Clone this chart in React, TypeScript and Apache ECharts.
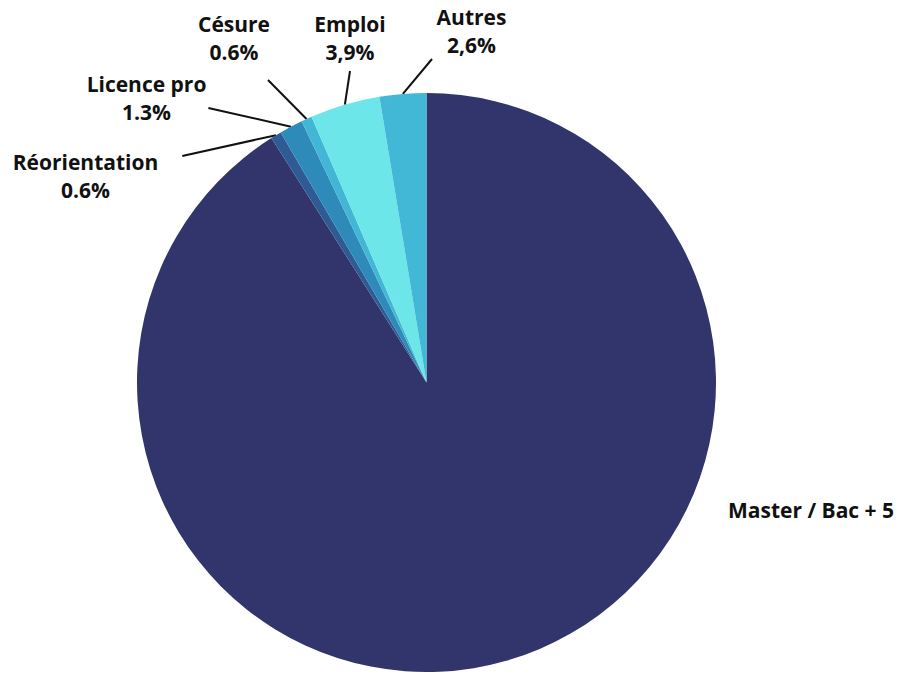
import React, { useEffect, useRef } from "react";
import * as echarts from "echarts";

const categories = ["Master / Bac + 5", "Réorientation", "Licence pro", "Césure", "Emploi", "Autres"];
const values = [91.0, 0.6, 1.3, 0.6, 3.9, 2.6];
const percentLabels = ["", "0.6%", "1.3%", "0.6%", "3,9%", "2,6%"];
const colors = ["#32356c", "#2f5b94", "#2e8ab9", "#42b7d5", "#6ce6e8", "#43b8d6"];
// label box anchor (centre x, top y) and paddings used to steer the connector lines
const labelSpots = [
  [811, 496],
  [97.5, 108],
  [147.5, 70],
  [268, 10],
  [350, 10],
  [432, 3],
];
const labelPads = [
  [0, 0, 0, 0],
  [40, 24, 0, 0],
  [0, 2, 20, 0],
  [0, 68, 14, 0],
  [0, 0, 5, 0],
  [0, 0, 0, 79],
];

export default function App() {
  const ref = useRef<HTMLDivElement>(null);
  useEffect(() => {
    const chart = echarts.init(ref.current!, null, { renderer: "svg" });
    chart.setOption({
      animation: false,
      backgroundColor: "#ffffff",
      series: [
        {
          type: "pie",
          center: [426.5, 382.5],
          radius: 289.5,
          startAngle: 90,
          clockwise: true,
          avoidLabelOverlap: false,
          itemStyle: { borderWidth: 0 },
          label: {
            show: true,
            position: "outside",
            fontFamily: "Open Sans",
            fontWeight: "bold",
            fontSize: 21,
            lineHeight: 28,
            color: "#111111",
            align: "center",
            backgroundColor: "rgba(255,255,255,0)",
            formatter: (p: any) =>
              percentLabels[p.dataIndex] ? p.name + "\n" + percentLabels[p.dataIndex] : p.name,
          },
          labelLine: { show: true, length: 10, length2: 0, lineStyle: { color: "#111111", width: 2 } },
          labelLayout: (p: any) => ({
            x: labelSpots[p.dataIndex][0],
            y: labelSpots[p.dataIndex][1],
            align: "center",
            verticalAlign: "top",
          }),
          data: categories.map((c, i) => ({
            name: c,
            value: values[i],
            itemStyle: { color: colors[i] },
            label: { padding: labelPads[i] },
            labelLine: i === 0 ? { show: false } : undefined,
          })),
        },
      ],
    });
    return () => chart.dispose();
  }, []);
  return (
    <div
      ref={ref}
      style={{ position: "absolute", left: 0, top: 0, width: 901, height: 674 }}
    />
  );
}
